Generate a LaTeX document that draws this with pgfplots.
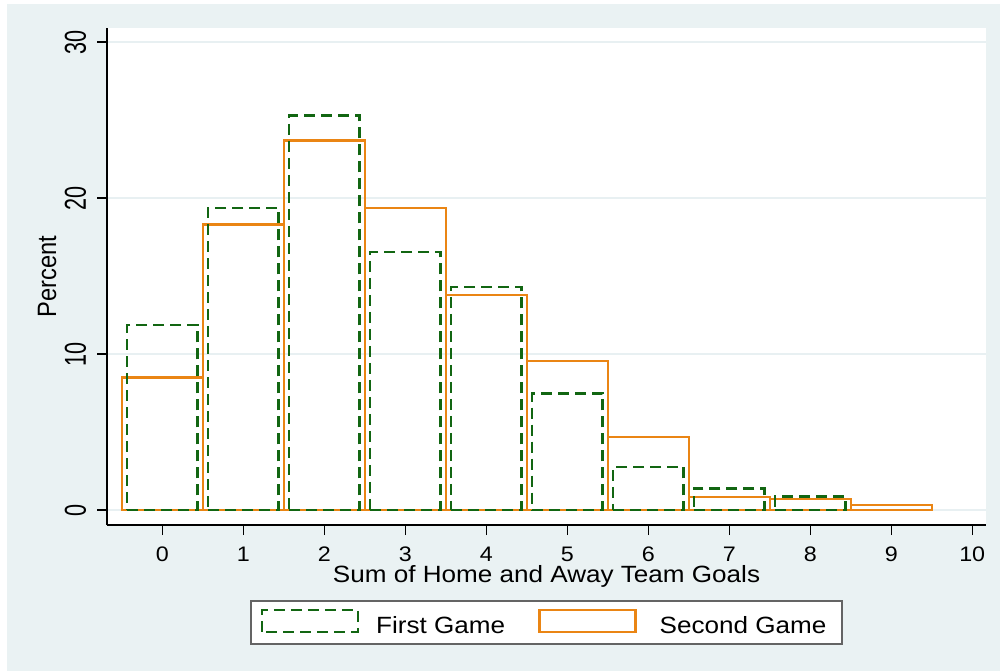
\documentclass[border=0pt]{standalone}
\usepackage{fontspec}
\setmainfont{Liberation Sans}[FakeStretch=1.11]
\newfontfamily\plainfont{Liberation Sans}
\usepackage{pgfplots}
\pgfplotsset{compat=1.18}
\definecolor{bgc}{RGB}{234,242,243}
\definecolor{gridc}{RGB}{232,240,242}
\definecolor{dkgreen}{RGB}{18,102,18}
\definecolor{sorange}{RGB}{234,133,20}
\definecolor{legframe}{RGB}{100,100,100}

\begin{document}
\begin{tikzpicture}[x=0.5pt,y=0.5pt]
\path[use as bounding box, fill=white] (0,0) rectangle (1000,671);
\fill[bgc] (7,0) rectangle (1000,667);
\begin{axis}[
  at={(53.5pt,73pt)}, anchor=south west,
  scale only axis, width=439.5pt, height=248.5pt,
  xmin=-0.683, xmax=10.17,
  ymin=-0.96, ymax=30.9,
  axis background/.style={fill=white},
  axis x line*=bottom, axis y line*=left,
  axis line style={line width=0.6pt, black},
  xtick={0,...,10}, ytick={0,10,20,30},
  tick align=outside, major tick length=5pt,
  tick style={line width=0.6pt, black},
  /pgf/number format/assume math mode=true,
  ticklabel style={font=\fontsize{10.5}{12}\selectfont},
  xticklabel style={anchor=base}, xticklabel shift=13pt,
  yticklabel style={font=\plainfont\fontsize{10.8}{12}\selectfont, rotate=90, anchor=base},
  yticklabel shift=5.5pt,
  yticklabel={\scalebox{1}[1.4]{\pgfmathprintnumber{\tick}}},
  ymajorgrids, grid style={color=gridc, line width=1.3pt},
  every axis x label/.style={at={(axis description cs:0.5,-0.116)}, anchor=base},
  every axis y label/.style={at={(axis description cs:-0.058,0.5)}, rotate=90, anchor=base},
  xlabel={\fontsize{11.75}{14}\selectfont Sum of Home and Away Team Goals},
  ylabel={\plainfont\fontsize{11.85}{14}\selectfont\scalebox{1}[1.12]{Percent}},
  legend columns=2, reverse legend,
  legend style={at={(0.5,-0.196)}, anchor=center, draw=legframe, line width=1pt, fill=white,
    font=\fontsize{11.75}{14}\selectfont, inner xsep=5pt, inner ysep=4pt,
    nodes={inner sep=0pt},
    /tikz/every odd column/.append style={column sep=8.5pt},
    /tikz/every even column/.append style={column sep=16.5pt}},
]
\addplot[ybar, bar width=1, bar shift=0pt, draw=sorange, line width=1.2pt, fill=none,
  legend image code/.code={\draw[sorange, line width=1.2pt, fill=white] (0pt,-2.8pt) rectangle (48pt,8.2pt);}]
  coordinates {(0,8.5) (1,18.3) (2,23.7) (3,19.35) (4,13.8) (5,9.57) (6,4.70) (7,0.85) (8,0.69) (9,0.32)};
\addlegendentry{\hspace*{3pt}Second Game\hspace*{3pt}}
\addplot[ybar, bar width=0.87, bar shift=0pt, draw=dkgreen, line width=1.3pt, fill=none,
  dash pattern=on 5.5pt off 3pt,
  legend image code/.code={\draw[dkgreen, line width=1.3pt, dash pattern=on 5.5pt off 3pt, fill=white] (0pt,-2.8pt) rectangle (48pt,8.2pt);}]
  coordinates {(0,11.86) (1,19.36) (2,25.3) (3,16.55) (4,14.3) (5,7.48) (6,2.76) (7,1.37) (8,0.85)};
\addlegendentry{First Game}
\end{axis}
\end{tikzpicture}
\end{document}
